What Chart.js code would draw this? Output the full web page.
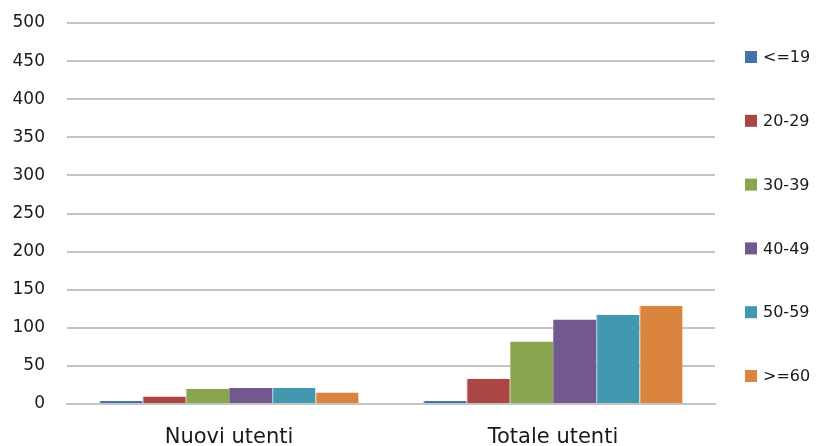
<!DOCTYPE html>
<html>
<head>
<meta charset="utf-8">
<script src="https://cdn.jsdelivr.net/npm/chart.js@4"></script>
<style>
html,body{margin:0;padding:0;background:#fff;}
#wrap{width:820px;height:446px;position:relative;}
</style>
</head>
<body>
<div id="wrap"><canvas id="c" width="820" height="446"></canvas></div>
<script>
const categories = ["Nuovi utenti", "Totale utenti"];
const seriesLabels = ["<=19", "20-29", "30-39", "40-49", "50-59", ">=60"];
const s_le19 = [4, 4];
const s_20_29 = [10, 33];
const s_30_39 = [20, 82];
const s_40_49 = [21, 111];
const s_50_59 = [21, 117];
const s_ge60 = [15, 129];
const yTicks = [0, 50, 100, 150, 200, 250, 300, 350, 400, 450, 500];

const colors = ["#4572A7", "#AA4643", "#89A54E", "#71588F", "#4198AF", "#DB843D"];
const edgeColors = ["#6f93c0", "#c27370", "#a6bd78", "#9581ab", "#6fb3c6", "#e5a170"];
const values = [s_le19, s_20_29, s_30_39, s_40_49, s_50_59, s_ge60];

const legendPlugin = {
  id: 'sideLegend',
  afterDraw(chart) {
    const ctx = chart.ctx;
    ctx.save();
    ctx.font = '16px "DejaVu Sans"';
    ctx.textBaseline = 'middle';
    chart.data.datasets.forEach((ds, i) => {
      const y = 57 + i * 63.8;
      ctx.fillStyle = ds.backgroundColor;
      ctx.fillRect(745, y - 6, 12, 12);
      ctx.fillStyle = '#1a1a1a';
      ctx.fillText(ds.label, 763, y + 1);
    });
    ctx.restore();
  }
};

new Chart(document.getElementById('c'), {
  type: 'bar',
  data: {
    labels: categories,
    datasets: seriesLabels.map((l, i) => ({
      label: l,
      data: values[i],
      backgroundColor: colors[i],
      borderColor: edgeColors[i],
      borderWidth: {left: 1, right: 0, top: 0, bottom: 0},
      categoryPercentage: 0.8,
      barPercentage: 1.0
    }))
  },
  options: {
    responsive: false,
    animation: false,
    layout: {padding: {left: 0, right: 105, top: 23, bottom: 0}},
    plugins: {legend: {display: false}, tooltip: {enabled: false}, title: {display: false}},
    scales: {
      x: {
        grid: {display: false, drawTicks: false},
        border: {display: true, color: '#c4c4c4', width: 2},
        ticks: {font: {family: 'DejaVu Sans', size: 21}, color: '#1a1a1a', padding: 21},
        afterFit(scale) { scale.height = 42; scale.paddingLeft = 0; scale.paddingRight = 0; }
      },
      y: {
        min: 0, max: 500,
        afterBuildTicks(scale) { scale.ticks = yTicks.map(v => ({value: v})); },
        grid: {color: '#c4c4c4', lineWidth: 2, drawTicks: false},
        border: {display: false},
        ticks: {font: {family: 'DejaVu Sans', size: 17}, color: '#1a1a1a', padding: 22},
        afterFit(scale) { scale.width = 67; scale.paddingTop = 0; scale.paddingBottom = 0; }
      }
    }
  },
  plugins: [legendPlugin]
});
</script>
</body>
</html>
